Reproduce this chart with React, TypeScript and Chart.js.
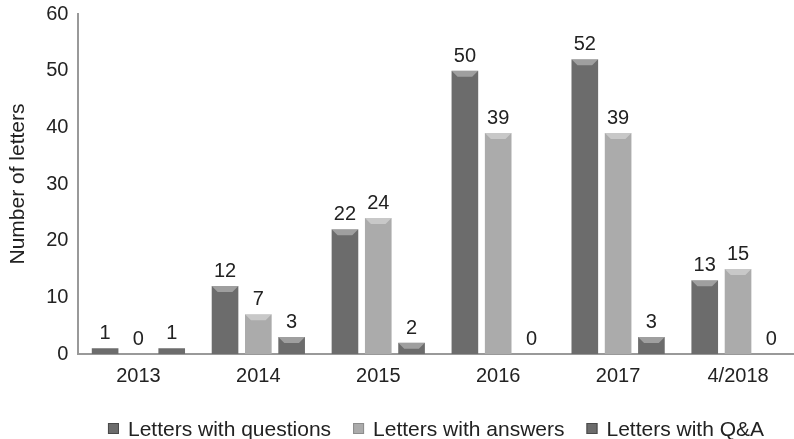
import React, { useEffect, useRef } from "react";
import { Chart, registerables } from "chart.js";
Chart.register(...registerables);

const categories = ["2013", "2014", "2015", "2016", "2017", "4/2018"];
const questions = [1, 12, 22, 50, 52, 13];
const answers = [0, 7, 24, 39, 39, 15];
const qa = [1, 3, 2, 0, 3, 0];
const seriesNames = ["Letters with questions", "Letters with answers", "Letters with Q&A"];
const yTicks = [0, 10, 20, 30, 40, 50, 60];

const FONT = "'Liberation Sans', Arial, Helvetica, sans-serif";
const DARK = "#6c6c6c";
const LIGHT = "#ababab";

function makeFill(dark: boolean) {
  return (ctx: any) => {
    const chart = ctx.chart;
    const el = ctx.element;
    if (!el || ctx.type !== "data" || !el.width) return dark ? DARK : LIGHT;
    const x0 = el.x - el.width / 2;
    const x1 = el.x + el.width / 2;
    const g = chart.ctx.createLinearGradient(x0, 0, x1, 0);
    if (dark) {
      g.addColorStop(0, "#575757");
      g.addColorStop(0.15, "#6a6a6a");
      g.addColorStop(0.5, "#727272");
      g.addColorStop(0.85, "#6a6a6a");
      g.addColorStop(1, "#545454");
    } else {
      g.addColorStop(0, "#939393");
      g.addColorStop(0.15, "#aeaeae");
      g.addColorStop(0.5, "#b6b6b6");
      g.addColorStop(0.85, "#adadad");
      g.addColorStop(1, "#909090");
    }
    return g;
  };
}

const bevel = {
  id: "bevel",
  afterDatasetsDraw(chart: any) {
    const { ctx } = chart;
    ctx.save();
    chart.data.datasets.forEach((ds: any, i: number) => {
      const meta = chart.getDatasetMeta(i);
      meta.data.forEach((bar: any) => {
        const h = bar.base - bar.y;
        if (h < 8) return;
        const x0 = bar.x - bar.width / 2;
        const x1 = bar.x + bar.width / 2;
        const d = 6;
        ctx.fillStyle = "rgba(255,255,255,0.35)";
        ctx.beginPath();
        ctx.moveTo(x0, bar.y);
        ctx.lineTo(x1, bar.y);
        ctx.lineTo(x1 - d, bar.y + d);
        ctx.lineTo(x0 + d, bar.y + d);
        ctx.closePath();
        ctx.fill();
      });
    });
    ctx.restore();
  },
};

const valueLabels = {
  id: "valueLabels",
  afterDatasetsDraw(chart: any) {
    const { ctx } = chart;
    ctx.save();
    ctx.font = `20px ${FONT}`;
    ctx.fillStyle = "#222";
    ctx.textAlign = "center";
    ctx.textBaseline = "alphabetic";
    chart.data.datasets.forEach((ds: any, i: number) => {
      const meta = chart.getDatasetMeta(i);
      meta.data.forEach((bar: any, j: number) => {
        ctx.fillText(String(ds.data[j]), bar.x, bar.y - 9);
      });
    });
    ctx.restore();
  },
};

const bottomLegend = {
  id: "bottomLegend",
  afterDraw(chart: any) {
    const { ctx } = chart;
    ctx.save();
    ctx.font = `21px ${FONT}`;
    const box = 11;
    const gapBox = 9;
    const gapItem = 22;
    const widths = seriesNames.map((n) => ctx.measureText(n).width);
    const total =
      widths.reduce((a, b) => a + b, 0) + seriesNames.length * (box + gapBox) + gapItem * (seriesNames.length - 1);
    let x = chart.width / 2 - total / 2;
    const baseline = 436;
    seriesNames.forEach((n, i) => {
      ctx.fillStyle = i === 1 ? LIGHT : DARK;
      ctx.fillRect(x, baseline - 13, box, box);
      ctx.strokeStyle = i === 1 ? "#8c8c8c" : "#4a4a4a";
      ctx.lineWidth = 1;
      ctx.strokeRect(x + 0.5, baseline - 12.5, box - 1, box - 1);
      x += box + gapBox;
      ctx.fillStyle = "#222";
      ctx.textAlign = "left";
      ctx.textBaseline = "alphabetic";
      ctx.fillText(n, x, baseline);
      x += widths[i] + gapItem;
    });
    ctx.restore();
  },
};

export default function App() {
  const ref = useRef<HTMLCanvasElement>(null);
  useEffect(() => {
    document.body.style.margin = "0";
    const chart = new Chart(ref.current!, {
      type: "bar",
      data: {
        labels: categories,
        datasets: [
          { label: seriesNames[0], data: questions, backgroundColor: makeFill(true) as any },
          { label: seriesNames[1], data: answers, backgroundColor: makeFill(false) as any },
          { label: seriesNames[2], data: qa, backgroundColor: makeFill(true) as any },
        ],
      },
      options: {
        animation: false,
        responsive: false,
        maintainAspectRatio: false,
        layout: { padding: { top: 14, right: 74, left: 6, bottom: 41 } },
        datasets: { bar: { barPercentage: 0.8, categoryPercentage: 0.833 } },
        plugins: {
          legend: { display: false },
          tooltip: { enabled: false },
        },
        scales: {
          x: {
            grid: { display: false, drawTicks: false },
            border: { display: true, color: "#999", width: 2 },
            ticks: { font: { family: FONT, size: 20 }, color: "#222", padding: 10 },
          },
          y: {
            min: 0,
            max: 60,
            afterBuildTicks: (s: any) => {
              s.ticks = yTicks.map((v) => ({ value: v }));
            },
            afterFit: (s: any) => {
              s.paddingTop = 0;
            },
            grid: { display: false, drawTicks: false },
            border: { display: true, color: "#999", width: 2 },
            ticks: { font: { family: FONT, size: 20 }, color: "#222", padding: 10 },
            title: {
              display: true,
              text: "Number of letters",
              font: { family: FONT, size: 21 },
              color: "#222",
              padding: { top: 0, bottom: 5 },
            },
          },
        },
      },
      plugins: [bevel, valueLabels, bottomLegend],
    });
    return () => chart.destroy();
  }, []);
  return (
    <div style={{ width: 794, height: 439, overflow: "hidden" }}>
      <canvas ref={ref} width={872} height={439} style={{ display: "block" }} />
    </div>
  );
}
